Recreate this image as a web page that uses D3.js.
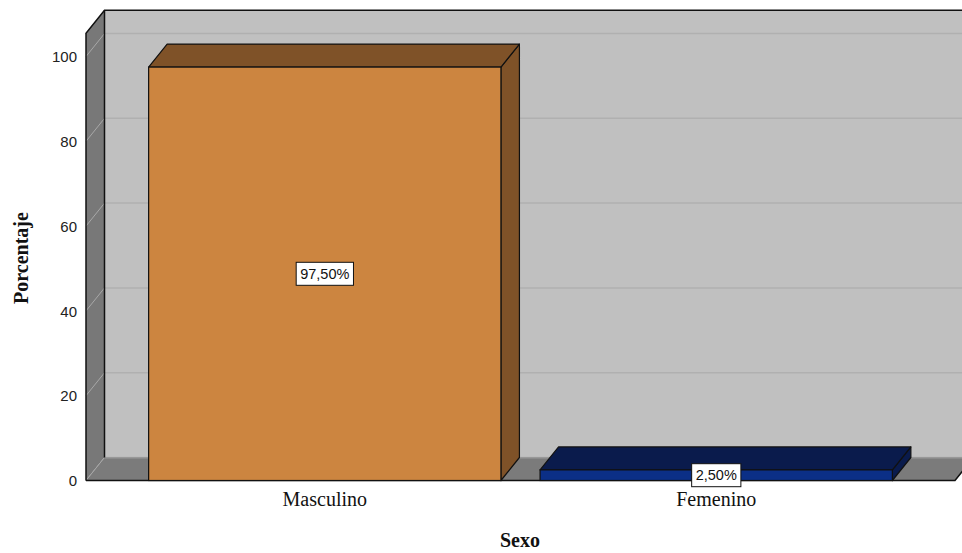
<!DOCTYPE html>
<html>
<head>
<meta charset="utf-8">
<script src="https://cdn.jsdelivr.net/npm/d3@7"></script>
<style>
  html, body { margin: 0; padding: 0; background: #ffffff; }
  svg { display: block; }
</style>
</head>
<body>
<svg id="chart" width="962" height="553"></svg>
<script>
// Sexo distribution (percent of respondents)
const categories = ["Masculino", "Femenino"];
const percentages = [97.5, 2.5];
const valueLabels = ["97,50%", "2,50%"];
const yTicks = [0, 20, 40, 60, 80, 100];
const axisTop = 105.5;          // value reached by the top edge of the walls

const faceColors = ["#cc8540", "#0b2f86"];
const shadeColors = ["#7f5228", "#0a1b4c"];

const W = 962, H = 553;
const depth = { dx: 18.5, dy: -23 };   // oblique offset of the back plane

const svg = d3.select("#chart");

const y = d3.scaleLinear().domain([0, 100]).range([480.5, 56.5]);
const x = d3.scaleBand().domain(categories).range([86, 955])
  .paddingInner(0.1).paddingOuter(0.16);

const x0 = x.range()[0], x1 = x.range()[1];
const yBase = y(0), yTop = y(axisTop);
const bx = v => v + depth.dx, by = v => v + depth.dy;
const poly = pts => "M" + pts.map(p => p.join(",")).join("L") + "Z";

// back wall
svg.append("path")
  .attr("d", poly([[bx(x0), by(yTop)], [W + 40, by(yTop)], [W + 40, by(yBase)], [bx(x0), by(yBase)]]))
  .attr("fill", "#c0c0c0");

// gridlines on the back wall
svg.append("g").selectAll("line").data(yTicks).join("line")
  .attr("x1", bx(x0)).attr("x2", W + 20)
  .attr("y1", d => by(y(d))).attr("y2", d => by(y(d)))
  .attr("stroke", "#b0b0b0").attr("stroke-width", 1.5);

// left wall
svg.append("path")
  .attr("d", poly([[x0, yTop], [bx(x0), by(yTop)], [bx(x0), by(yBase)], [x0, yBase]]))
  .attr("fill", "#787878");

// gridlines on the left wall
svg.append("g").selectAll("line").data(yTicks).join("line")
  .attr("x1", x0).attr("x2", bx(x0))
  .attr("y1", d => y(d)).attr("y2", d => by(y(d)))
  .attr("stroke", "#a8a8a8").attr("stroke-width", 1);

// floor
svg.append("path")
  .attr("d", poly([[x0, yBase], [bx(x0), by(yBase)], [W + 40, by(yBase)], [bx(x1), by(yBase)], [x1, yBase]]))
  .attr("fill", "#7b7b7b");
svg.append("line")
  .attr("x1", bx(x0)).attr("x2", W + 20)
  .attr("y1", by(yBase) + 0.5).attr("y2", by(yBase) + 0.5)
  .attr("stroke", "#9a9a9a").attr("stroke-width", 1);
svg.append("line")
  .attr("x1", x0).attr("x2", bx(x0))
  .attr("y1", yBase).attr("y2", by(yBase))
  .attr("stroke", "#a8a8a8").attr("stroke-width", 1);

// frame edges
const edge = svg.append("g").attr("fill", "none").attr("stroke", "#111").attr("stroke-width", 1.5);
edge.append("path").attr("d", `M${x0},${yBase}L${x0},${yTop}L${bx(x0)},${by(yTop)}L${W + 20},${by(yTop)}`);
edge.append("path").attr("d", `M${bx(x0)},${by(yTop)}L${bx(x0)},${by(yBase)}`);
edge.append("path").attr("d", `M${x0},${yBase}L${x1},${yBase}L${bx(x1)},${by(yBase)}`);

// bars as oblique boxes
const bars = svg.append("g").selectAll("g").data(categories).join("g");
bars.each(function (cat, i) {
  const g = d3.select(this);
  const l = x(cat), r = x(cat) + x.bandwidth();
  const t = y(percentages[i]), b = yBase;
  // right side
  g.append("path")
    .attr("d", poly([[r, b], [r, t], [bx(r), by(t)], [bx(r), by(b)]]))
    .attr("fill", shadeColors[i]).attr("stroke", "#111").attr("stroke-width", 1.2)
    .attr("stroke-linejoin", "round");
  // top
  g.append("path")
    .attr("d", poly([[l, t], [bx(l), by(t)], [bx(r), by(t)], [r, t]]))
    .attr("fill", shadeColors[i]).attr("stroke", "#111").attr("stroke-width", 1.2)
    .attr("stroke-linejoin", "round");
  // front
  g.append("rect")
    .attr("x", l).attr("y", t).attr("width", r - l).attr("height", b - t)
    .attr("fill", faceColors[i]).attr("stroke", "#111").attr("stroke-width", 1.2);
});

// value labels centred on each front face
bars.each(function (cat, i) {
  const g = d3.select(this);
  const cx = x(cat) + x.bandwidth() / 2;
  const cy = (y(percentages[i]) + yBase) / 2;
  const txt = g.append("text")
    .attr("x", cx).attr("y", cy)
    .attr("text-anchor", "middle").attr("dominant-baseline", "central")
    .attr("font-family", "Liberation Sans, Arial, sans-serif")
    .attr("font-size", 14.5).attr("fill", "#111")
    .text(valueLabels[i]);
  const bb = txt.node().getBBox();
  g.insert("rect", "text")
    .attr("x", bb.x - 4).attr("y", cy - 11.5)
    .attr("width", bb.width + 8).attr("height", 23)
    .attr("fill", "#fff").attr("stroke", "#111").attr("stroke-width", 1);
});

// value axis
const yAxis = svg.append("g")
  .attr("transform", `translate(${x0},0)`)
  .call(d3.axisLeft(y).tickValues(yTicks).tickSize(0).tickPadding(9));
yAxis.select(".domain").remove();
yAxis.selectAll("text")
  .attr("font-family", "Liberation Sans, Arial, sans-serif")
  .attr("font-size", 15).attr("fill", "#222").attr("dy", "0.35em");

// category axis
const xAxis = svg.append("g")
  .attr("transform", `translate(0,${yBase})`)
  .call(d3.axisBottom(x).tickSize(0).tickPadding(11));
xAxis.select(".domain").remove();
xAxis.selectAll("text")
  .attr("font-family", "Liberation Serif, Times New Roman, serif")
  .attr("font-size", 20).attr("fill", "#111");

// axis titles
svg.append("text")
  .attr("transform", "translate(28,258) rotate(-90)")
  .attr("text-anchor", "middle")
  .attr("font-family", "Liberation Serif, Times New Roman, serif")
  .attr("font-weight", "bold").attr("font-size", 20).attr("fill", "#111")
  .text("Porcentaje");

svg.append("text")
  .attr("x", 520).attr("y", 547)
  .attr("text-anchor", "middle")
  .attr("font-family", "Liberation Serif, Times New Roman, serif")
  .attr("font-weight", "bold").attr("font-size", 20).attr("fill", "#111")
  .text("Sexo");
</script>
</body>
</html>
